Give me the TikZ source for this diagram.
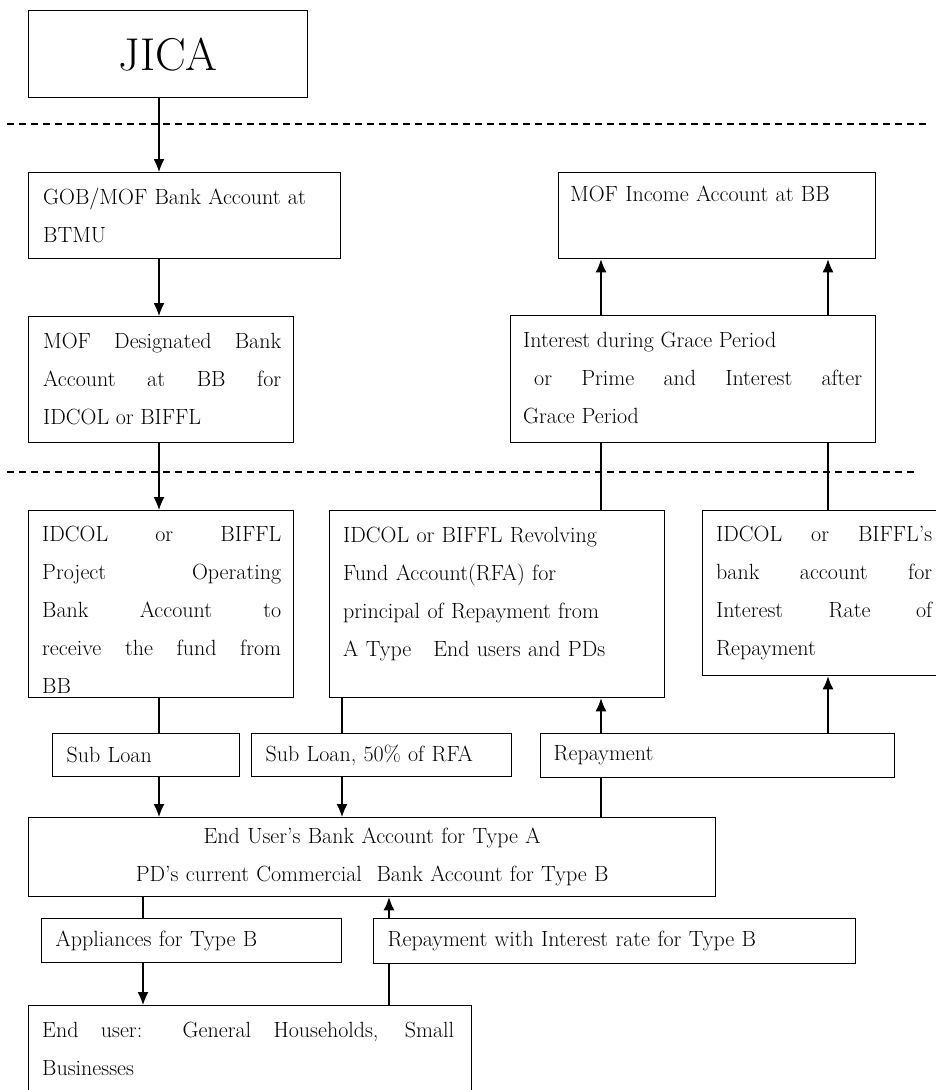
\documentclass[tikz,border=0pt]{standalone}
\usepackage{fontspec}
\usetikzlibrary{arrows.meta}

\tikzset{
  acct/.style={draw, line width=1.3pt, anchor=north west, inner sep=0pt},
  tag/.style={draw, line width=1.3pt, anchor=north west, inner xsep=14pt, inner ysep=0pt,
              minimum height=43pt, align=left, font=\fontsize{22}{38}\selectfont},
  txt/.style={anchor=north west, inner sep=0pt, align=justify, font=\fontsize{22}{38}\selectfont},
  flow/.style={line width=1.3pt, -{Latex[length=13pt,width=11pt]}},
  link/.style={line width=1.3pt},
  sep/.style={line width=1.2pt, dash pattern=on 7pt off 5pt}
}

\begin{document}
\begin{tikzpicture}[x=1pt, y=-1pt]
\useasboundingbox (0,0) rectangle (936,1090);
\clip (0,0) rectangle (936,1090);

% columns of the connectors
\coordinate (xa) at (159,0);
\coordinate (xb) at (342,0);
\coordinate (xc) at (601,0);
\coordinate (xd) at (828,0);
\coordinate (xe) at (143,0);
\coordinate (xf) at (389,0);

\draw[sep] (7,124) -- (930,124);
\draw[sep] (7,472) -- (915,472);

\node[acct, minimum width=279pt, minimum height=87pt, font=\fontsize{46}{46}\selectfont] (jica) at (28,10) {JICA};

% accounts
\node[acct, minimum width=312pt, minimum height=86pt] (gob) at (28,172) {};
\node[txt, align=left, text width=290pt] (gobtxt) at ([shift={(15pt,-16pt)}]gob.north west)
  {GOB/MOF Bank Account at\\BTMU};

\node[acct, minimum width=317pt, minimum height=86pt] (income) at (558,172) {};
\node[txt, align=left, text width=295pt] (incometxt) at ([shift={(12pt,-14pt)}]income.north west)
  {MOF Income Account at BB};

\node[acct, minimum width=265pt, minimum height=126pt] (desig) at (28,316) {};
\node[txt, text width=238pt] (desigtxt) at ([shift={(15pt,-17pt)}]desig.north west)
  {MOF Designated Bank\linebreak Account at BB for\linebreak IDCOL or BIFFL};

\node[acct, minimum width=365pt, minimum height=127pt] (interest) at (510,315) {};
\node[txt, text width=339pt] (interesttxt) at ([shift={(13pt,-17pt)}]interest.north west)
  {Interest during Grace Period\\\hspace*{11pt}or Prime and Interest after\linebreak Grace Period};

\node[acct, minimum width=265pt, minimum height=187pt] (operating) at (28,510) {};
\node[txt, text width=239pt] (operatingtxt) at ([shift={(14pt,-16pt)}]operating.north west)
  {IDCOL or BIFFL\linebreak Project Operating\linebreak Bank Account to\linebreak
   receive the fund from\linebreak BB};

\node[acct, minimum width=335pt, minimum height=187pt] (rfa) at (329,510) {};
\node[txt, align=left, text width=300pt] (rfatxt) at ([shift={(14pt,-17pt)}]rfa.north west)
  {IDCOL or BIFFL Revolving\\Fund Account(RFA) for\\principal of Repayment from\\A Type\quad End users and PDs};

\node[acct, minimum width=250pt, minimum height=165pt] (rate) at (702,510) {};
\node[txt, text width=216pt] (ratetxt) at ([shift={(14pt,-16pt)}]rate.north west)
  {IDCOL or BIFFL's\linebreak bank account for\linebreak Interest Rate of\linebreak Repayment};

% flows
\node[tag, text width=159pt] (subloan) at (52,733) {Sub Loan};
\node[tag, text width=232pt] (subrfa) at (251,733) {Sub Loan, 50\% of RFA};
\node[tag, text width=328pt, inner xsep=13pt, minimum height=44pt] (repay) at (540,733) {Repayment};

\node[tag, text width=659pt, align=center, minimum height=79pt] (endacct) at (28,817)
  {End User's Bank Account for Type A\\PD's current Commercial\ \ Bank Account for Type B};

\node[tag, text width=272pt, minimum height=44pt] (appl) at (41,918) {Appliances for Type B};
\node[tag, text width=454pt, minimum height=45pt] (repint) at (373,918) {Repayment with Interest rate for Type B};

\node[acct, minimum width=443pt, minimum height=100pt] (house) at (28,1005) {};
\node[txt, text width=412pt] (housetxt) at ([shift={(14pt,-17pt)}]house.north west)
  {End user: General Households, Small\linebreak Businesses};

% connectors
\draw[flow] (jica.south -| xa) -- (gob.north -| xa);
\draw[flow] (gob.south -| xa) -- (desig.north -| xa);
\draw[flow] (desig.south -| xa) -- (operating.north -| xa);
\draw[flow] (interest.north -| xc) -- (income.south -| xc);
\draw[flow] (interest.north -| xd) -- (income.south -| xd);
\draw[link] (rfa.north -| xc) -- (interest.south -| xc);
\draw[link] (rate.north -| xd) -- (interest.south -| xd);

\draw[link] (operating.south -| xa) -- (subloan.north -| xa);
\draw[flow] (subloan.south -| xa) -- (endacct.north -| xa);
\draw[link] (rfa.south -| xb) -- (subrfa.north -| xb);
\draw[flow] (subrfa.south -| xb) -- (endacct.north -| xb);
\draw[link] (endacct.north -| xc) -- (repay.south -| xc);
\draw[flow] (repay.north -| xc) -- (rfa.south -| xc);
\draw[flow] (repay.north -| xd) -- (rate.south -| xd);

\draw[link] (endacct.south -| xe) -- (appl.north -| xe);
\draw[flow] (appl.south -| xe) -- (house.north -| xe);
\draw[link] (house.north -| xf) -- (repint.south -| xf);
\draw[flow] (repint.north -| xf) -- (endacct.south -| xf);
\end{tikzpicture}
\end{document}
